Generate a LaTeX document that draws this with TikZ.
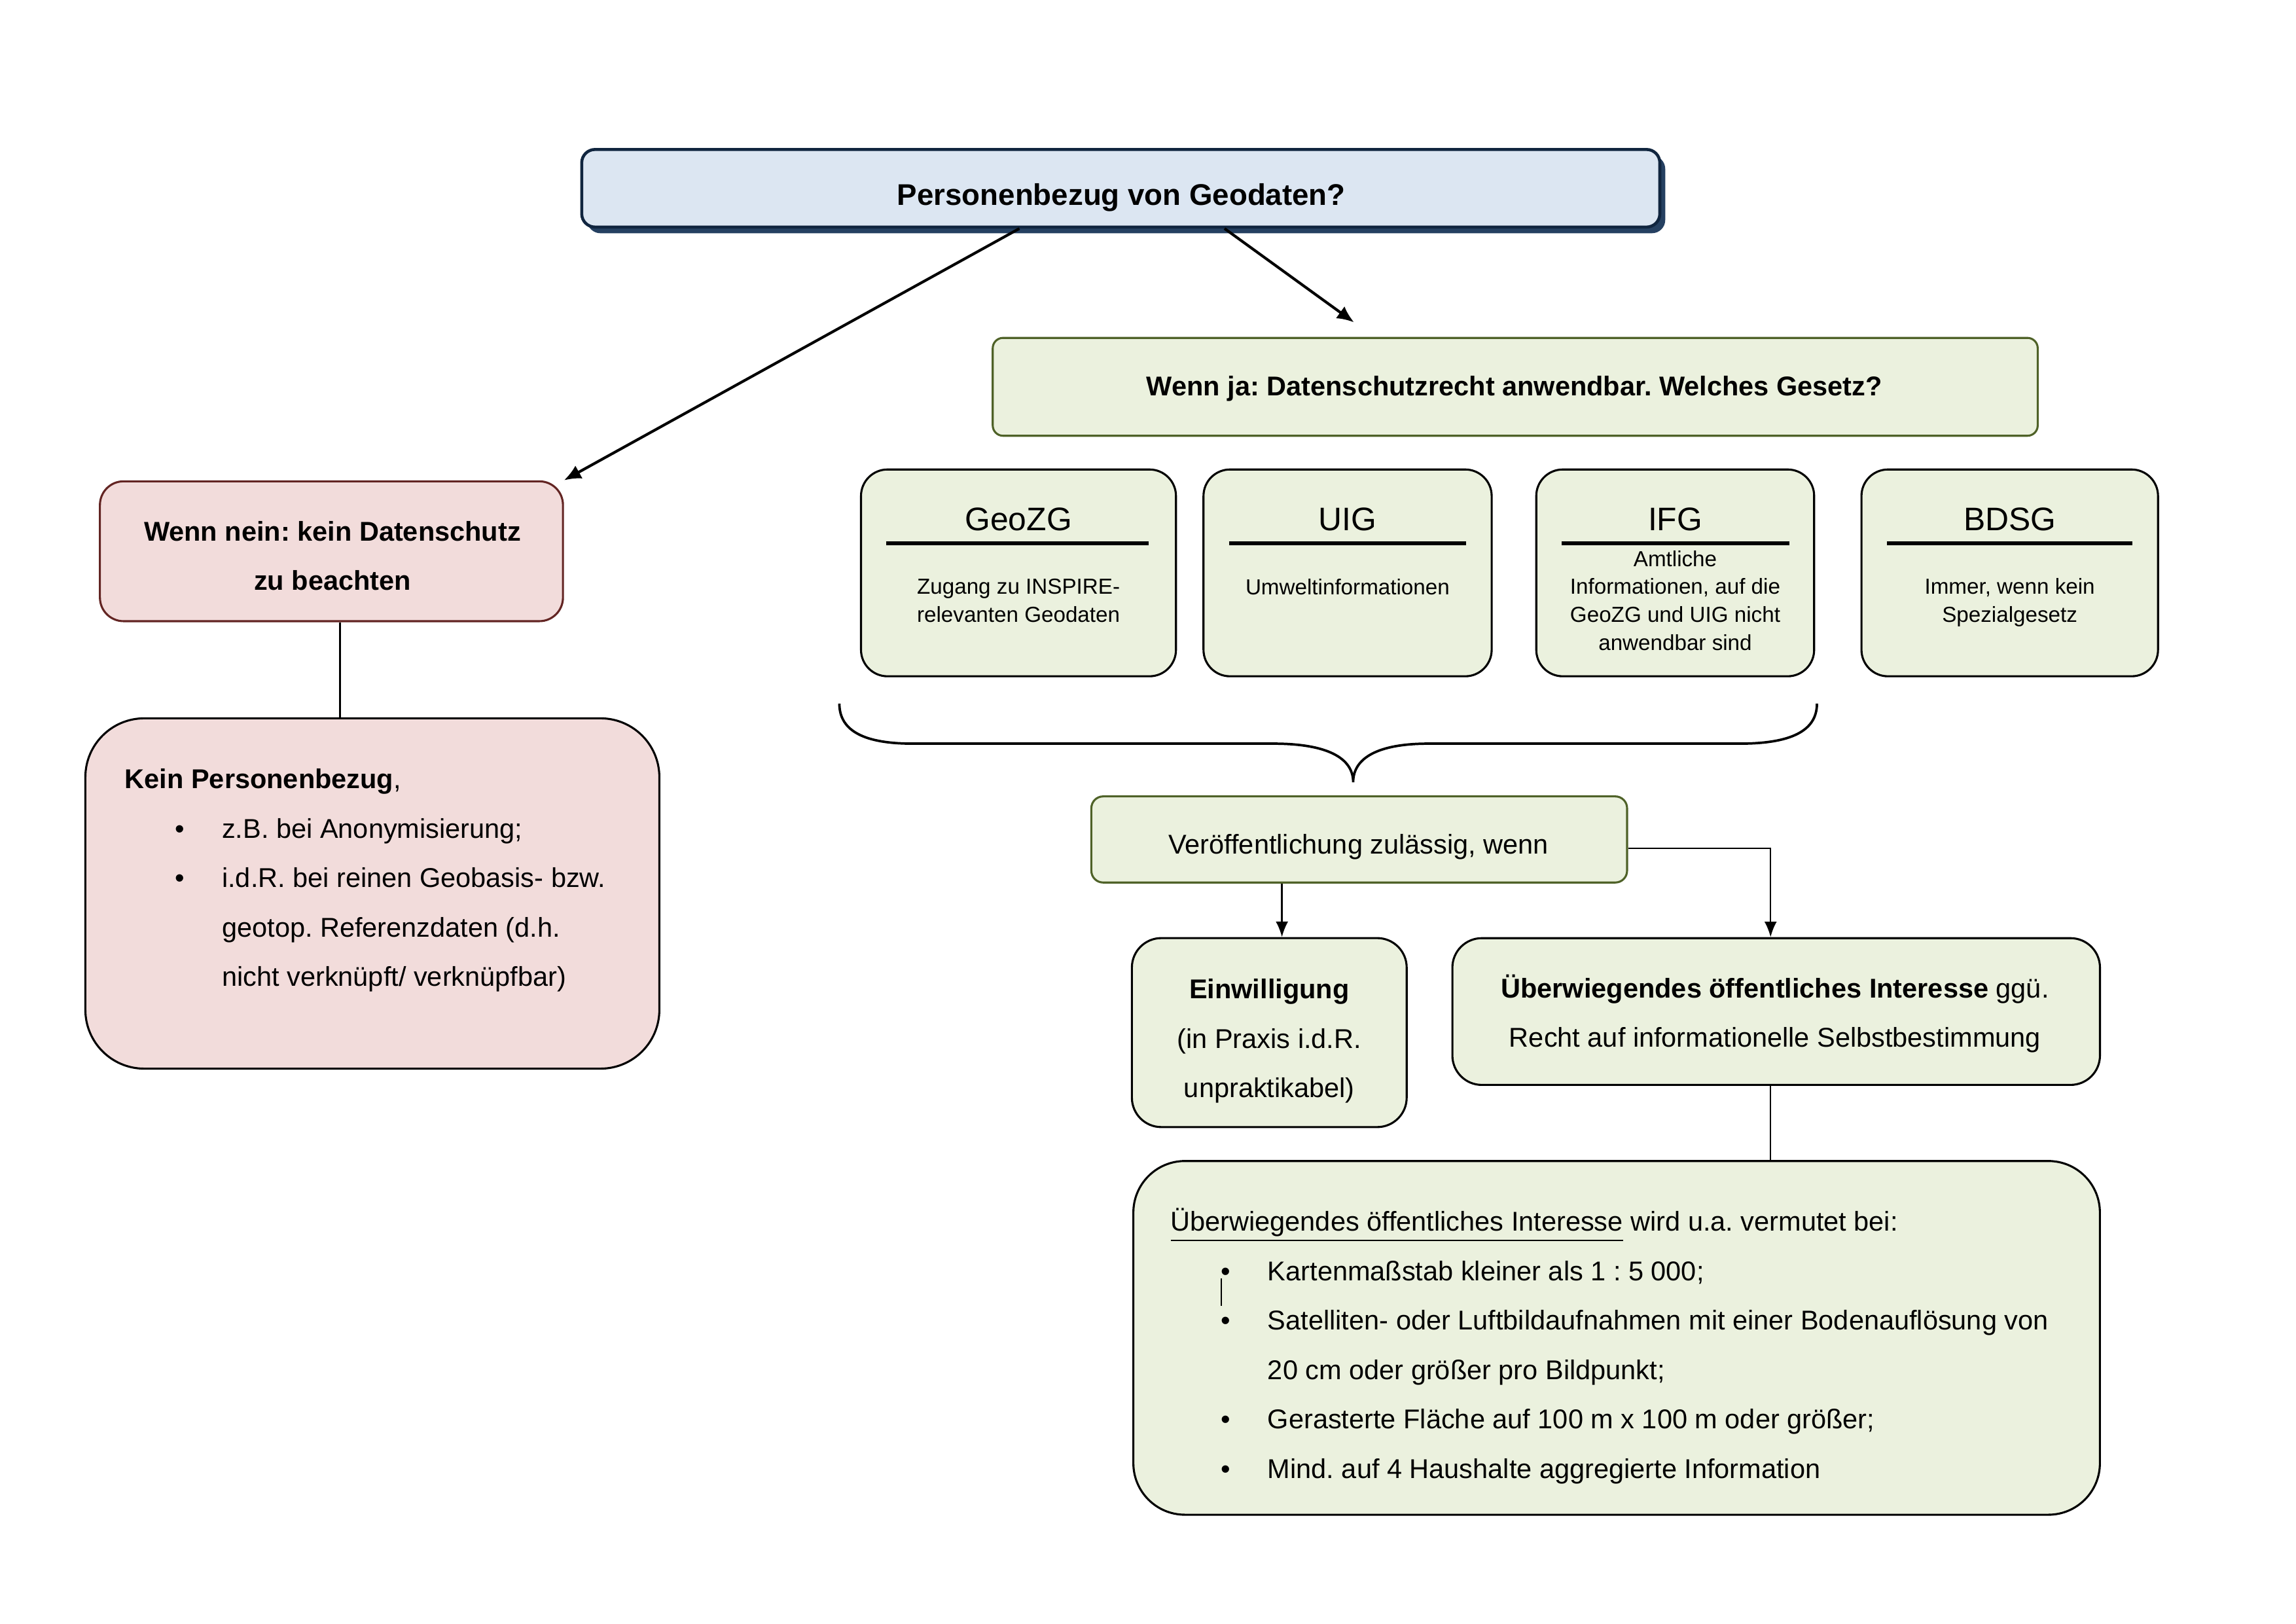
\documentclass[tikz,border=0pt]{standalone}
\usepackage{fontspec}
\setmainfont{Liberation Sans}
\usetikzlibrary{arrows.meta,shadows}
\frenchspacing
\newlength\dpx
\setlength\dpx{0.0190385cm}
\definecolor{qfill}{HTML}{DCE6F2}
\definecolor{qline}{HTML}{10253F}
\definecolor{qshade}{HTML}{254061}
\definecolor{gfill}{HTML}{EBF1DE}
\definecolor{gline}{HTML}{4F6228}
\definecolor{rfill}{HTML}{F2DCDB}
\definecolor{rline}{HTML}{632523}
\newcommand\itm{\hspace*{34\dpx}\makebox[32\dpx][l]{\textbullet}}
\newcommand\cnt{\hspace*{66\dpx}}
\begin{document}
\begin{tikzpicture}[x=0.0190385cm,y=-0.0190385cm,
	box/.style={draw,line width=0.75pt,inner sep=0pt},
	qbox/.style={box,line width=1.1pt,draw=qline,fill=qfill,rounded corners=9\dpx,drop shadow={shadow xshift=0.07cm,shadow yshift=-0.08cm,fill=qshade,opacity=1}},
	gbox/.style={box,draw=gline,fill=gfill},
	rbox/.style={box,draw=rline,fill=rfill},
	txt/.style={inner sep=0pt,anchor=base,align=center,font=\fontsize{10pt}{18.2pt}\selectfont},
	lst/.style={txt,anchor=base west,align=left},
	law/.style={inner sep=0pt,anchor=base,font=\fontsize{12pt}{14pt}\selectfont},
	lawtxt/.style={txt,font=\fontsize{8pt}{10.3pt}\selectfont},
	arr/.style={-{Latex[length=2.2mm,width=1.9mm]},line width=1pt},
	con/.style={line width=0.6pt}]
	\useasboundingbox (0,0) rectangle (1560,1103);

	% Frage
	\node[qbox,minimum width=732.5\dpx,minimum height=52.7\dpx] (q)at(761.5,127.9){};
	\node[txt,font=\fontsize{11pt}{13pt}\selectfont] (qt)at(761.9,139.6){\bfseries Personenbezug von Geodaten?};

	% ja / nein (Textanker = Grundlinie der letzten Zeile)
	\node[gbox,rounded corners=7\dpx,minimum width=710\dpx,minimum height=66.5\dpx] (ja)at(1029.5,262.8){};
	\node[txt] (jat)at(1029,268.6){\bfseries Wenn ja: Datenschutzrecht anwendbar. Welches Gesetz?};

	\node[rbox,rounded corners=16\dpx,minimum width=314.6\dpx,minimum height=95\dpx] (nein)at(225.2,374.5){};
	\node[txt] (neint)at(225.9,401){{\bfseries Wenn nein: kein Datenschutz}\\{\bfseries zu beachten}};

	\node[box,fill=rfill,rounded corners=40\dpx,minimum width=390\dpx,minimum height=238\dpx] (kein)at(253,607){};
	\node[lst] (keint)at(84.5,670){{\bfseries Kein Personenbezug},\\
		\itm z.B. bei Anonymisierung;\\
		\itm i.d.R. bei reinen Geobasis- bzw.\\
		\cnt geotop. Referenzdaten (d.h.\\
		\cnt nicht verknüpft/ verknüpfbar)};

	% Gesetze
	\node[box,fill=gfill,rounded corners=18\dpx,minimum width=214\dpx,minimum height=140.5\dpx] (geozg)at(692,389.2){};
	\node[law] (geozgh)at(692,360.4){GeoZG};
	\draw[line width=1.4pt] (602,369.2) -- (780.5,369.2);
	\node[lawtxt] (geozgt)at(692,422.7){Zugang zu INSPIRE-\\relevanten Geodaten};

	\node[box,fill=gfill,rounded corners=18\dpx,minimum width=195.8\dpx,minimum height=140.5\dpx] (uig)at(915.6,389.2){};
	\node[law] (uigh)at(915.6,360.4){UIG};
	\draw[line width=1.4pt] (835,369.2) -- (996,369.2);
	\node[lawtxt] (uigt)at(915.6,404){Umweltinformationen};

	\node[box,fill=gfill,rounded corners=18\dpx,minimum width=188.8\dpx,minimum height=140.5\dpx] (ifg)at(1138.2,389.2){};
	\node[law] (ifgh)at(1138.2,360.4){IFG};
	\draw[line width=1.4pt] (1061,369.2) -- (1216,369.2);
	\node[lawtxt] (ifgt)at(1138.2,441.8){Amtliche\\Informationen, auf die\\GeoZG und UIG nicht\\anwendbar sind};

	\node[box,fill=gfill,rounded corners=18\dpx,minimum width=201.5\dpx,minimum height=140.5\dpx] (bdsg)at(1365.5,389.2){};
	\node[law] (bdsgh)at(1365.5,360.4){BDSG};
	\draw[line width=1.4pt] (1282,369.2) -- (1449,369.2);
	\node[lawtxt] (bdsgt)at(1365.5,422.7){Immer, wenn kein\\Spezialgesetz};

	% Klammer
	\draw[line width=0.9pt] (570.3,478) .. controls (570.3,497) and (588,505.2) .. (620,505.2) -- (865,505.2)
		.. controls (902,505.2) and (919.4,515) .. (919.4,531.4)
		.. controls (919.4,515) and (936,505.2) .. (970.6,505.2) -- (1182,505.2)
		.. controls (1216,505.2) and (1234.5,497) .. (1234.5,478);

	% Veroeffentlichung
	\node[gbox,rounded corners=8\dpx,minimum width=364\dpx,minimum height=58.5\dpx] (veroef)at(923.5,570.3){};
	\node[txt] (veroeft)at(923,580.3){Veröffentlichung zulässig, wenn};

	\node[box,fill=gfill,rounded corners=20\dpx,minimum width=186.7\dpx,minimum height=128.4\dpx] (einw)at(862.4,701.5){};
	\node[txt] (einwt)at(862.4,745.7){{\bfseries Einwilligung}\\(in Praxis i.d.R.\\unpraktikabel)};

	\node[box,fill=gfill,rounded corners=20\dpx,minimum width=440\dpx,minimum height=99.7\dpx] (uew)at(1206.8,687.2){};
	\node[txt] (uewt)at(1206,711.5){{\bfseries Überwiegendes öffentliches Interesse} ggü.\\Recht auf informationelle Selbstbestimmung};

	\node[box,fill=gfill,rounded corners=35\dpx,minimum width=656.7\dpx,minimum height=240.3\dpx] (bot)at(1098.4,908.9){};
	\node[lst] (bott)at(795,1004.2){\underline{Überwiegendes öffentliches Interesse} wird u.a. vermutet bei:\\
		\itm Kartenmaßstab kleiner als 1 : 5 000;\\
		\itm Satelliten- oder Luftbildaufnahmen mit einer Bodenauflösung von\\
		\cnt 20 cm oder größer pro Bildpunkt;\\
		\itm Gerasterte Fläche auf 100 m x 100 m oder größer;\\
		\itm Mind. auf 4 Haushalte aggregierte Information};
	\draw[line width=0.6pt] (829.8,868.6) -- (829.8,887);

	% Verbindungen
	\draw[arr] (q.south -| 692.6,0) -- (nein.north east);
	\coordinate (jt)at(920,219);
	\draw[arr] (q.south -| 832,0) -- (jt);
	\draw[con] (nein.south -| 231,0) -- (kein.north -| 231,0);
	\draw[con,-{Latex[length=2mm,width=1.6mm]}] (veroef.south -| 871,0) -- (einw.north -| 871,0);
	\draw[con,-{Latex[length=2mm,width=1.6mm]}] (veroef.east |- 0,576.3) -| (uew.north -| 1203,0);
	\draw[con] (uew.south -| 1203,0) -- (bot.north -| 1203,0);
\end{tikzpicture}
\end{document}
